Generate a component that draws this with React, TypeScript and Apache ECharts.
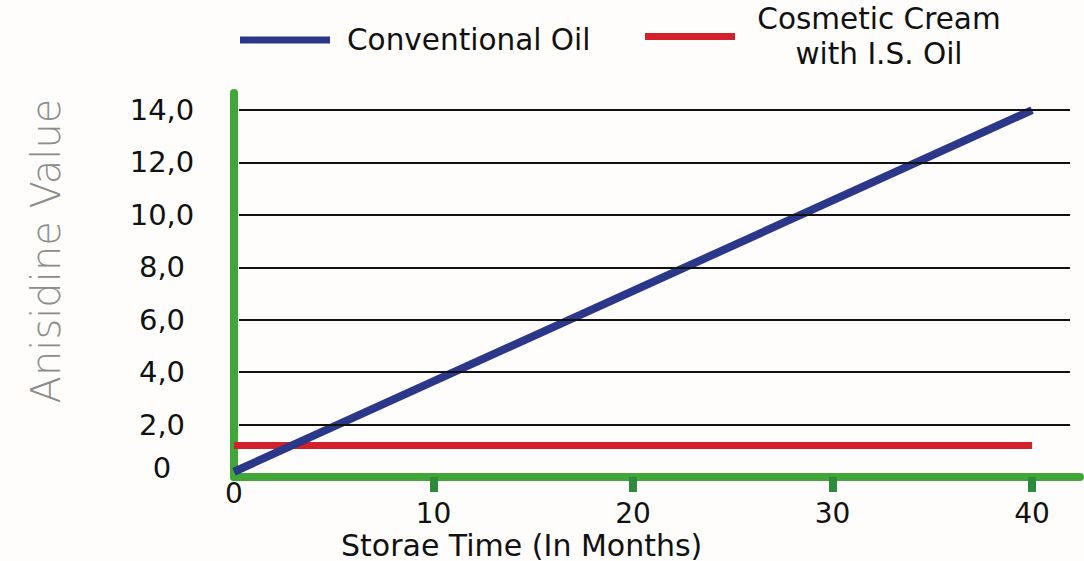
import React, { useEffect, useRef } from 'react';
import * as echarts from 'echarts';

const seriesNames = ['Conventional Oil', 'Cosmetic Cream with I.S. Oil'];
const conventionalOil = [
  [0, 0.2],
  [40, 14],
];
const cosmeticCream = [
  [0, 1.2],
  [40, 1.2],
];
const xTicks = [0, 10, 20, 30, 40];
const xMarkTicks = [10, 20, 30, 40];
const yTicks = [0, 2, 4, 6, 8, 10, 12, 14];
const yTickLabels = ['0', '2,0', '4,0', '6,0', '8,0', '10,0', '12,0', '14,0'];
const gridValues = [2, 4, 6, 8, 10, 12, 14];

const FONT = 'DejaVu Sans';
const GREEN = '#40a637';
const DARK_GREEN = '#2d8c3c';
const BLUE = '#2b3788';
const RED = '#d2212a';

export default function App() {
  const ref = useRef<HTMLDivElement>(null);

  useEffect(() => {
    if (!ref.current) return;
    const chart = echarts.init(ref.current, undefined, { renderer: 'svg' });
    chart.setOption({
      animation: false,
      backgroundColor: '#fefdfb',
      textStyle: { fontFamily: FONT },
      title: {
        text: 'Storae Time (In Months)',
        left: 341,
        top: 530,
        padding: 0,
        textStyle: { fontFamily: FONT, fontSize: 30, lineHeight: 30, fontWeight: 'normal', color: '#111' },
      },
      legend: [
        {
          data: [seriesNames[0]],
          left: 240,
          top: 24,
          padding: 0,
          icon: 'rect',
          itemWidth: 90,
          itemHeight: 7,
          selectedMode: false,
          textStyle: { fontFamily: FONT, fontSize: 29.5, color: '#111', padding: [0, 0, 0, 12], lineHeight: 32 },
        },
        {
          data: [seriesNames[1]],
          left: 645,
          top: 4,
          padding: 0,
          icon: 'rect',
          itemWidth: 90,
          itemHeight: 7,
          selectedMode: false,
          formatter: () => '{a|Cosmetic Cream}\n{a|with I.S. Oil}',
          textStyle: {
            fontFamily: FONT,
            fontSize: 29.5,
            color: '#111',
            rich: { a: { width: 278, align: 'center', fontSize: 29.5, lineHeight: 35, color: '#111', fontFamily: FONT } },
          },
        },
      ],
      graphic: [
        {
          type: 'text',
          x: 46,
          y: 251,
          rotation: Math.PI / 2,
          style: {
            text: 'Anisidine Value',
            fontFamily: FONT,
            fontSize: 40,
            fontWeight: 200,
            fill: '#8c8c8c',
            align: 'center',
            verticalAlign: 'middle',
          },
        },
      ],
      grid: { left: 234, right: 4, top: 93, bottom: 84, containLabel: false },
      xAxis: {
        type: 'value',
        min: 0,
        max: 42.4,
        interval: 10,
        splitLine: { show: false },
        axisLine: { show: true, lineStyle: { color: GREEN, width: 8 } },
        axisTick: { show: true, customValues: xMarkTicks, length: 15, lineStyle: { color: DARK_GREEN, width: 8 } },
        axisLabel: {
          customValues: xTicks,
          margin: 36,
          verticalAlign: 'middle',
          fontFamily: FONT,
          fontSize: 28,
          lineHeight: 22,
          color: '#111',
          formatter: (v: number) => (v === 0 ? '{z|0}' : String(v)),
          rich: { z: { padding: [0, 0, 39, 0], fontSize: 28, lineHeight: 22, color: '#111', fontFamily: FONT } },
        },
      },
      yAxis: {
        type: 'value',
        min: 0,
        max: 14.65,
        interval: 2,
        splitLine: { show: false },
        axisLine: { show: true, onZero: false, lineStyle: { color: GREEN, width: 8 } },
        axisTick: { show: false },
        axisLabel: {
          customValues: yTicks,
          margin: 72,
          align: 'center',
          fontFamily: FONT,
          fontSize: 29,
          color: '#111',
          formatter: (v: number) => {
            const i = yTicks.indexOf(v);
            const t = i >= 0 ? yTickLabels[i] : '';
            return v === 0 ? '{z|' + t + '}' : t;
          },
          rich: { z: { padding: [0, 0, 18, 0], fontSize: 29, color: '#111', fontFamily: FONT } },
        },
      },
      series: [
        {
          name: 'grid',
          type: 'line',
          data: [],
          z: 1,
          silent: true,
          markLine: {
            silent: true,
            symbol: ['none', 'none'],
            label: { show: false },
            lineStyle: { color: '#111', width: 2, type: 'solid' },
            data: gridValues.map((v) => [{ coord: [0.25, v] }, { coord: [41.9, v] }]),
          },
        },
        {
          name: seriesNames[1],
          type: 'line',
          data: cosmeticCream,
          symbol: 'none',
          color: RED,
          lineStyle: { color: RED, width: 7 },
          z: 3,
        },
        {
          name: seriesNames[0],
          type: 'line',
          data: conventionalOil,
          symbol: 'none',
          color: BLUE,
          lineStyle: { color: BLUE, width: 8 },
          z: 4,
        },
      ],
    });
    return () => chart.dispose();
  }, []);

  return <div ref={ref} style={{ position: 'fixed', left: 0, top: 0, width: 1084, height: 561 }} />;
}
